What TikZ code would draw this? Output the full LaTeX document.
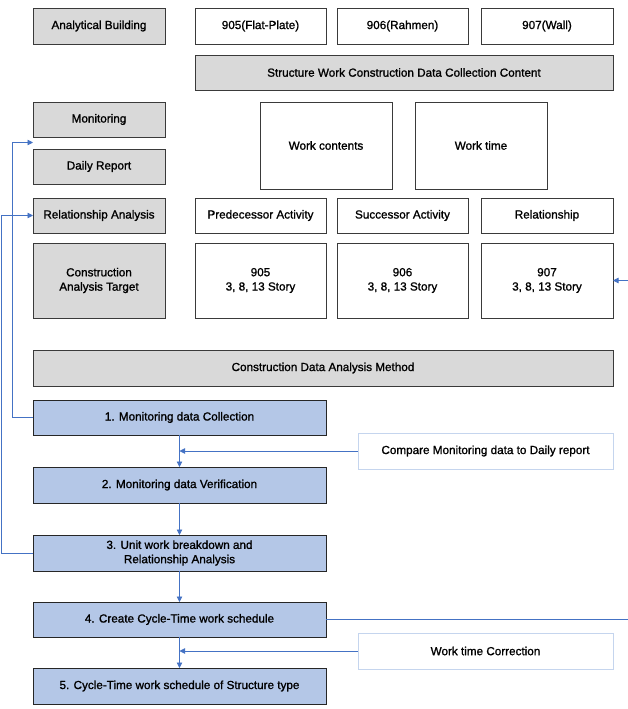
\documentclass[tikz,border=0pt]{standalone}
\usepackage{fontspec}
\setmainfont{Liberation Sans}[FakeBold=1.2]
\usetikzlibrary{arrows.meta}
\definecolor{gfill}{HTML}{D9D9D9}
\definecolor{bfill}{HTML}{B4C7E7}
\definecolor{bline}{HTML}{4472C4}
\definecolor{lblue}{HTML}{C5D5EE}
\definecolor{edgec}{HTML}{3A3A3A}
\newcommand{\mybox}[7]{\node[#1, minimum width={(#5-#3)*1pt}, minimum height={(#6-#4)*1pt}] (#2) at ({(#3+#5)/2},{(#4+#6)/2}) {#7};}
\begin{document}
\begin{tikzpicture}[x=1pt,y=-1pt,
 base/.style={draw=edgec, line width=0.8pt, inner sep=0pt, outer sep=0pt, align=center, font=\fontsize{11.7}{14.3}\selectfont, anchor=center},
 graybox/.style={base, fill=gfill},
 whitebox/.style={base, fill=white},
 stepbox/.style={base, fill=bfill, draw=black!85},
 notebox/.style={base, draw=lblue, fill=white},
 conn/.style={draw=bline, line width=0.8pt, -{Triangle[length=5.5pt,width=5.5pt]}},
]
\useasboundingbox (0,0) rectangle (628,709);
\fill[white] (0,0) rectangle (628,709);
% left column
\mybox{graybox}{ab}{33}{8}{165}{44}{Analytical Building}
\mybox{graybox}{mon}{33}{102}{165}{137}{Monitoring}
\mybox{graybox}{dr}{33}{149}{165}{184}{Daily Report}
\mybox{graybox}{ra}{33}{198}{165}{233}{Relationship Analysis}
\mybox{graybox}{cat}{33}{243}{165}{318}{Construction\\Analysis Target}
% top row
\mybox{whitebox}{b905}{195}{8}{326}{44}{905(Flat-Plate)}
\mybox{whitebox}{b906}{337}{8}{468}{44}{906(Rahmen)}
\mybox{whitebox}{b907}{481}{8}{613}{44}{907(Wall)}
\mybox{graybox}{sw}{195}{55}{613}{90}{Structure Work Construction Data Collection Content}
\mybox{whitebox}{wc}{260}{102}{392}{189}{Work contents}
\mybox{whitebox}{wt}{415}{102}{547}{189}{Work time}
\mybox{whitebox}{pa}{195}{198}{326}{233}{Predecessor Activity}
\mybox{whitebox}{sa}{337}{198}{468}{233}{Successor Activity}
\mybox{whitebox}{rel}{481}{198}{613}{233}{Relationship}
\mybox{whitebox}{t905}{195}{243}{326}{318}{905\\3, 8, 13 Story}
\mybox{whitebox}{t906}{337}{243}{468}{318}{906\\3, 8, 13 Story}
\mybox{whitebox}{t907}{481}{243}{613}{318}{907\\3, 8, 13 Story}
\mybox{graybox}{cdam}{33}{350}{613}{386}{Construction Data Analysis Method}
% steps
\mybox{stepbox}{s1}{33}{400}{326}{435}{1. Monitoring data Collection}
\mybox{stepbox}{s2}{33}{467}{326}{503}{2. Monitoring data Verification}
\mybox{stepbox}{s3}{33}{535}{326}{571}{3. Unit work breakdown and\\Relationship Analysis}
\mybox{stepbox}{s4}{33}{602}{326}{637}{4. Create Cycle-Time work schedule}
\mybox{stepbox}{s5}{33}{668}{326}{704}{5. Cycle-Time work schedule of Structure type}
\mybox{notebox}{cmp}{358}{433}{613}{469}{Compare Monitoring data to Daily report}
\mybox{notebox}{wtc}{358}{633}{613}{669}{Work time Correction}
% connectors
\coordinate (fb1) at (12,142.5);
\coordinate (gap) at (33,142.5);
\coordinate (fb2) at (1.5,215.5);
\coordinate (fb3) at (631,280.5);
\draw[conn] (s1.west) -| (fb1) -- (gap);
\draw[conn] (s3.west) -| (fb2) -- (ra.west);
\draw[conn] (s4.east) -| (fb3) -- (t907.east);
\draw[conn] (s1.south) -- (s2.north);
\draw[conn] (s2.south) -- (s3.north);
\draw[conn] (s3.south) -- (s4.north);
\draw[conn] (s4.south) -- (s5.north);
\draw[conn] (cmp.west) -- (cmp.west -| s1.south);
\draw[conn] (wtc.west) -- (wtc.west -| s4.south);
\end{tikzpicture}
\end{document}
